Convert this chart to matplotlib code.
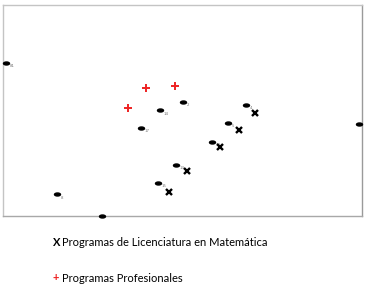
import matplotlib
matplotlib.use("Agg")
import matplotlib.pyplot as plt
from matplotlib.path import Path
from matplotlib.transforms import Affine2D
from matplotlib.markers import MarkerStyle

# Programme positions on the two-dimensional map
prog_labels = ["81", "2", "14", "17", "4", "5", "10", "13", "15", "8", "", ""]
prog_x = [0.8, 50.1, 43.7, 38.5, 67.7, 62.7, 58.2, 48.2, 43.2, 15.0, 27.5, 99.1]
prog_y = [72.5, 54.2, 50.2, 41.8, 52.6, 44.2, 35.2, 24.3, 15.8, 10.3, 0.0, 43.7]

# Licenciatura en Matemática programmes
lic_x = [70.3, 65.7, 60.5, 51.3, 46.2]
lic_y = [49.0, 40.8, 32.6, 21.5, 11.4]

# Professional programmes
prof_x = [39.7, 48.0, 34.8]
prof_y = [60.5, 61.6, 51.2]

legend_items = ["Programas de Licenciatura en Matemática", "Programas Profesionales"]

W, H = 365, 289
fig = plt.figure(figsize=(W / 100, H / 100), dpi=100)
ax = fig.add_axes([3 / W, 1 - 216 / H, (362 - 3) / W, (216 - 5) / H])
ax.set_xlim(0, 100)
ax.set_ylim(0, 100)
ax.set_xticks([])
ax.set_yticks([])
for side, col in [("top", "#c4c4c4"), ("left", "#c4c4c4"),
                  ("right", "#9a9a9a"), ("bottom", "#a8a8a8")]:
    ax.spines[side].set_color(col)
    ax.spines[side].set_linewidth(1.0)

ellipse = Path.unit_circle().transformed(Affine2D().scale(1.0, 0.5))
dot = MarkerStyle(ellipse)
ax.plot(prog_x, prog_y, linestyle="none", marker=dot, markersize=4.3,
        color="black", clip_on=False, zorder=3)
for lx, ly, lab in zip(prog_x, prog_y, prog_labels):
    ax.annotate(lab, (lx, ly), xytext=(2.5, -2.5), textcoords="offset points",
                fontsize=2.8, color="#777777", va="center", ha="left")

ax.plot(lic_x, lic_y, linestyle="none", marker="x", markersize=4.3,
        markeredgewidth=1.7, color="black", zorder=3)
ax.plot(prof_x, prof_y, linestyle="none", marker="+", markersize=5.5,
        markeredgewidth=1.4, color="#ee2222", zorder=3)

font = ["Lato", "DejaVu Sans"]
fig.text(53 / W, 1 - 242 / H, "X", fontsize=8, fontweight="bold",
         family=font, color="black", va="center", ha="left")
fig.text(62 / W, 1 - 242 / H, legend_items[0], fontsize=8,
         family=font, color="black", va="center", ha="left")
fig.text(53 / W, 1 - 278 / H, "+", fontsize=8, fontweight="bold",
         family=font, color="#ee2222", va="center", ha="left")
fig.text(62 / W, 1 - 278 / H, legend_items[1], fontsize=8,
         family=font, color="black", va="center", ha="left")

fig.savefig("out.png", dpi=100)
